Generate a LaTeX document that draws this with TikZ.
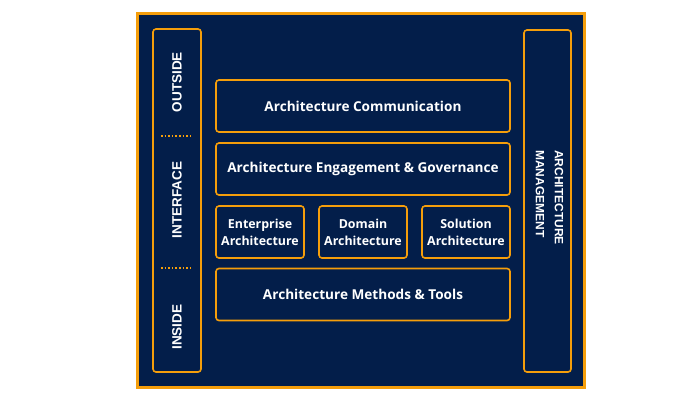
\documentclass[tikz,border=0pt]{standalone}
\usepackage{fontspec}
\setmainfont{Open Sans}
\newfontfamily\pillarfont{Liberation Sans}
\definecolor{navy}{RGB}{3,30,74}
\definecolor{orng}{RGB}{245,158,11}
\begin{document}
\begin{tikzpicture}[x=1pt,y=-1pt,
  box/.style={draw=orng,line width=1.6pt,rounded corners=3pt,fill=navy,text=white,font=\bfseries\fontsize{13.6}{16}\selectfont,align=center,inner sep=0pt},
  small/.style={box,font=\bfseries\fontsize{12.4}{17}\selectfont},
  pillar/.style={draw=orng,line width=1.6pt,rounded corners=3pt,fill=navy},
  vtext/.style={text=white,font=\pillarfont\bfseries\fontsize{13.5}{15}\selectfont,inner sep=0pt},
  dots/.style={orng,line width=1.6pt,dash pattern=on 1.6pt off 2pt}]
\useasboundingbox (0,0) rectangle (700,400);
\fill[white] (0,0) rectangle (700,400);
\node[draw=orng,line width=3pt,fill=navy,minimum width=447pt,minimum height=374pt,inner sep=0pt] (outer) at (360.5,200) {};
\node[pillar,minimum width=48pt,minimum height=343pt] (left) at (177,200.5) {};
\node[pillar,minimum width=47pt,minimum height=342pt] (right) at (547.5,201) {};
\coordinate (d1a) at (161,136); \coordinate (d1b) at (192,136);
\coordinate (d2a) at (161,268); \coordinate (d2b) at (192,268);
\draw[dots] (d1a) -- (d1b);
\draw[dots] (d2a) -- (d2b);
\node[vtext,rotate=90] (outside) at (177,82) {OUTSIDE};
\node[vtext,rotate=90] (interface) at (177,200) {INTERFACE};
\node[vtext,rotate=90] (inside) at (177,327) {INSIDE};
\node[text=white,font=\pillarfont\bfseries\fontsize{12}{19}\selectfont,rotate=-90,align=left,inner sep=0pt,anchor=north west] (mgmt) at (563.5,150) {ARCHITECTURE\\MANAGEMENT};
\node[box,minimum width=294pt,minimum height=52pt] (comm) at (363,106) {Architecture Communication};
\node[box,minimum width=294pt,minimum height=52pt] (eng) at (363,169) {Architecture Engagement \& Governance};
\node[small,minimum width=88pt,minimum height=52pt] (ent) at (260,232) {Enterprise\\Architecture};
\node[small,minimum width=88pt,minimum height=52pt] (dom) at (363,232) {Domain\\Architecture};
\node[small,minimum width=88pt,minimum height=52pt] (sol) at (466,232) {Solution\\Architecture};
\node[box,minimum width=294pt,minimum height=52pt] (meth) at (363,294.5) {Architecture Methods \& Tools};
\end{tikzpicture}
\end{document}
